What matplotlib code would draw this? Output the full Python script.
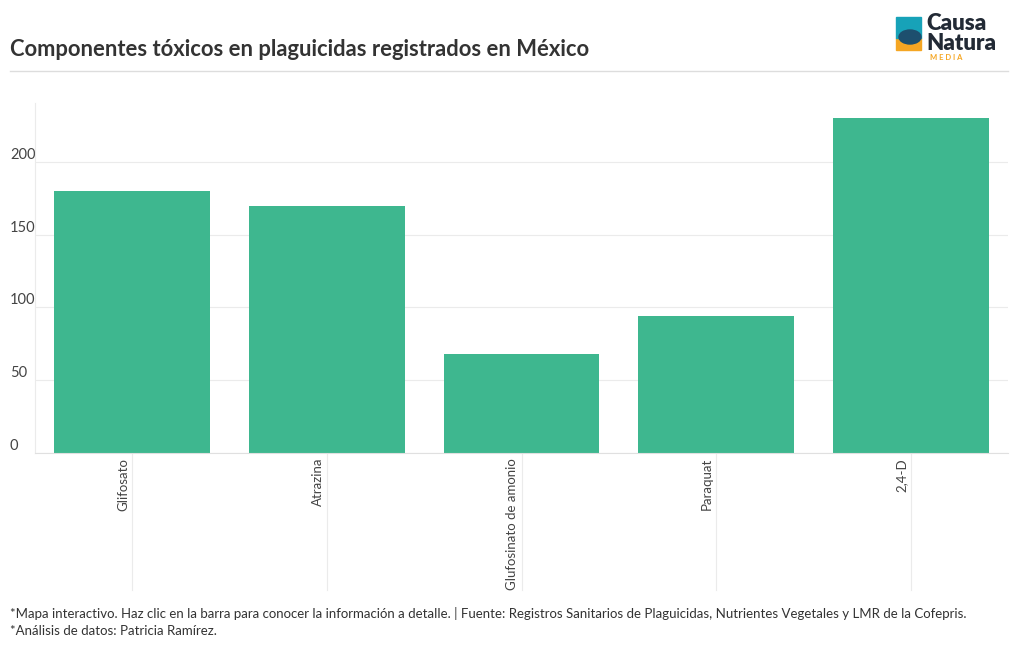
import matplotlib.pyplot as plt
from matplotlib.patches import Rectangle, Ellipse
from matplotlib.lines import Line2D
import matplotlib.transforms as mtransforms

componentes = ["Glifosato", "Atrazina", "Glufosinato de amonio", "Paraquat", "2,4-D"]
registros = [180, 170, 68, 94, 230]
y_ticks = [0, 50, 100, 150, 200]

c_bar = '#3eb78f'
c_grid = '#ebebeb'
c_text = '#444444'

plt.rcParams.update({'font.family': ['Lato', 'DejaVu Sans']})

fig = plt.figure(figsize=(10.2, 6.5), dpi=100)
W, H = 1020, 650
ax = fig.add_axes([35 / W, (H - 453) / H, 973 / W, 350 / H])

x = list(range(len(componentes)))
ax.bar(x, registros, width=0.8, color=c_bar, zorder=2)
ax.set_xlim(-0.5, len(componentes) - 0.5)
ax.set_ylim(0, 240.5)

for s in ['top', 'right']:
    ax.spines[s].set_visible(False)
ax.spines['left'].set_color(c_grid)
ax.spines['bottom'].set_color('#e0e0e0')
ax.set_yticks(y_ticks)
ax.set_yticklabels([str(t) for t in y_ticks])
ax.tick_params(axis='y', length=0, pad=18, labelsize=10.5, labelcolor=c_text)
for lbl in ax.get_yticklabels():
    lbl.set_ha('left')
    lbl.set_va('bottom')
ax.grid(axis='y', color=c_grid, linewidth=0.8, zorder=0)

ax.set_xticks(x)
ax.set_xticklabels([])
ax.tick_params(axis='x', length=0)
trans = ax.get_xaxis_transform()
off = mtransforms.offset_copy(trans, fig=fig, x=-3, y=-5, units='dots')
for xi, name in zip(x, componentes):
    ax.text(xi, 0, name, transform=off, rotation=90, ha='right', va='top',
            fontsize=9.5, color=c_text)
    ax.plot([xi, xi], [0, -137 / 350], transform=trans, color=c_grid,
            linewidth=0.8, clip_on=False, zorder=0)

# title and separator
fig.text(10 / W, 1 - 50 / H, "Componentes tóxicos en plaguicidas registrados en México",
         fontsize=15.8, fontweight='bold', color='#333333', va='center', ha='left')
fig.add_artist(Line2D([10 / W, 1008 / W], [1 - 71 / H, 1 - 71 / H], color='#dddddd', linewidth=1))

# logo
fig.add_artist(Rectangle((896 / W, 1 - 50 / H), 25 / W, 12 / H, color='#f5a623', transform=fig.transFigure))
fig.add_artist(Rectangle((896 / W, 1 - 38 / H), 25 / W, 21 / H, color='#17a2b8', transform=fig.transFigure))
fig.add_artist(Ellipse((910 / W, 1 - 37 / H), 22 / W, 14 / H, color='#1d4f6e', transform=fig.transFigure))
fig.text(926 / W, 1 - 24 / H, "Causa", fontsize=16, fontweight='heavy', color='#222a35', va='center')
fig.text(926 / W, 1 - 43 / H, "Natura", fontsize=16, fontweight='heavy', color='#222a35', va='center')
fig.text(930 / W, 1 - 58 / H, "M E D I A", fontsize=5.5, fontweight='bold', color='#f5a623', va='center')

# footer
fig.text(10 / W, 1 - 613 / H,
         "*Mapa interactivo. Haz clic en la barra para conocer la información a detalle. | Fuente: Registros Sanitarios de Plaguicidas, Nutrientes Vegetales y LMR de la Cofepris.",
         fontsize=9.5, color='#333333', va='center')
fig.text(10 / W, 1 - 631 / H, "*Análisis de datos: Patricia Ramírez.",
         fontsize=9.5, color='#333333', va='center')

fig.savefig("out.png", dpi=100)
